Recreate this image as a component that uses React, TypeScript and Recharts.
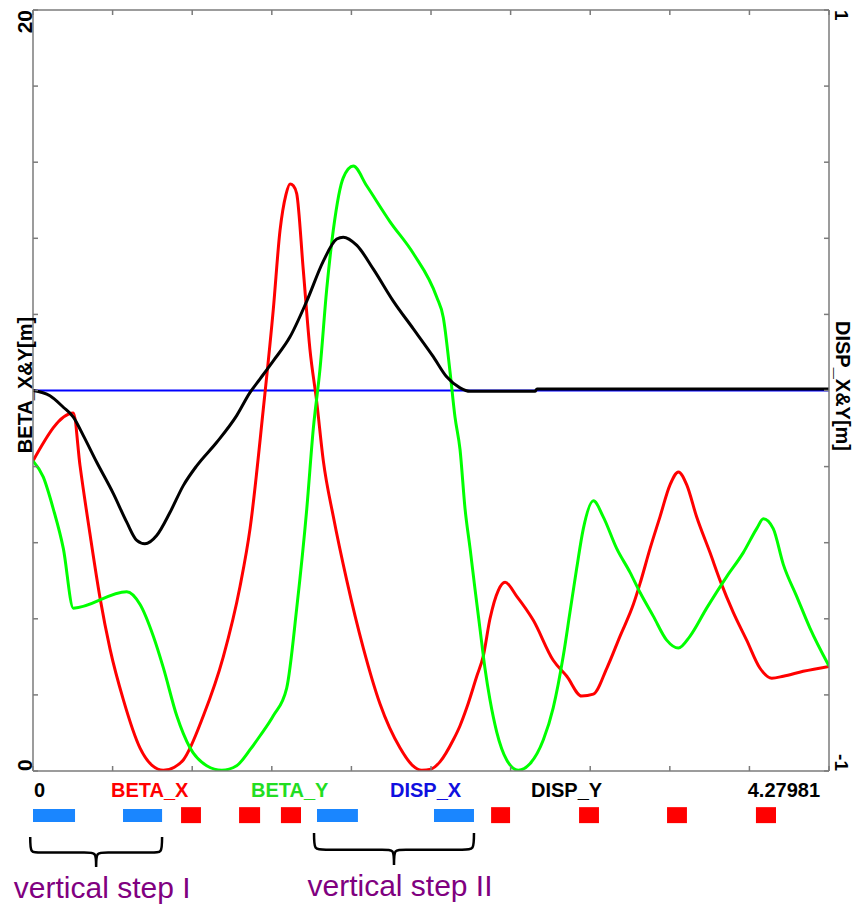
import React from 'react';
import { ComposedChart, Line, XAxis, YAxis, ReferenceArea } from 'recharts';

// lattice length along s [m]
const S_MAX = 4.27981;

// BETA_X (left axis, m)
const BETA_X_S = [0, 0.217, 0.253, 0.306, 0.36, 0.414, 0.486, 0.575, 0.64, 0.701, 0.76, 0.808, 0.916, 1.023, 1.113, 1.167, 1.238, 1.292, 1.328, 1.36, 1.382, 1.4, 1.418, 1.453, 1.489, 1.525, 1.561, 1.615, 1.687, 1.776, 1.866, 1.973, 2.04, 2.09, 2.14, 2.188, 2.26, 2.296, 2.332, 2.386, 2.421, 2.457, 2.502, 2.538, 2.601, 2.69, 2.797, 2.87, 2.95, 3.013, 3.085, 3.156, 3.228, 3.264, 3.318, 3.371, 3.425, 3.47, 3.515, 3.568, 3.64, 3.694, 3.765, 3.837, 3.909, 3.972, 4.034, 4.141, 4.28];
const BETA_X = [8.15, 9.41, 8.02, 6.24, 4.56, 3.21, 1.87, 0.61, 0.15, 0.02, 0.1, 0.29, 1.45, 3.0, 4.85, 6.37, 9.5, 12.13, 14.2, 15.15, 15.43, 15.38, 15.17, 13.18, 11.08, 9.72, 8.15, 6.68, 5.01, 3.23, 1.76, 0.61, 0.15, 0.02, 0.05, 0.24, 0.82, 1.19, 1.66, 2.49, 3.02, 4.0, 4.75, 4.96, 4.59, 3.96, 2.91, 2.49, 1.97, 2.02, 2.7, 3.54, 4.38, 4.93, 5.85, 6.68, 7.52, 7.86, 7.52, 6.68, 5.74, 5.01, 4.17, 3.44, 2.7, 2.44, 2.49, 2.62, 2.75];

// BETA_Y (left axis, m)
const BETA_Y_S = [0, 0.055, 0.109, 0.163, 0.217, 0.504, 0.575, 0.647, 0.701, 0.773, 0.844, 0.934, 1.015, 1.095, 1.167, 1.22, 1.292, 1.364, 1.418, 1.472, 1.507, 1.543, 1.579, 1.615, 1.668, 1.722, 1.794, 1.919, 2.045, 2.171, 2.206, 2.242, 2.269, 2.296, 2.323, 2.35, 2.376, 2.403, 2.43, 2.457, 2.493, 2.547, 2.609, 2.672, 2.744, 2.797, 2.851, 2.887, 2.923, 2.959, 3.013, 3.066, 3.138, 3.21, 3.264, 3.335, 3.407, 3.47, 3.532, 3.622, 3.73, 3.819, 3.891, 3.927, 3.98, 4.034, 4.106, 4.178, 4.28];
const BETA_Y = [8.15, 7.73, 6.89, 5.85, 4.28, 4.71, 4.38, 3.54, 2.71, 1.45, 0.61, 0.14, 0.02, 0.14, 0.56, 0.92, 1.45, 2.18, 4.28, 6.89, 8.99, 10.56, 12.65, 14.23, 15.59, 15.9, 15.38, 14.44, 13.6, 12.45, 11.92, 10.5, 9.3, 8.45, 6.89, 5.85, 4.8, 3.75, 2.7, 1.87, 1.03, 0.29, 0.02, 0.19, 0.82, 1.66, 3.02, 4.17, 5.32, 6.37, 7.1, 6.68, 5.85, 5.22, 4.69, 4.07, 3.44, 3.23, 3.54, 4.28, 5.11, 5.74, 6.37, 6.63, 6.37, 5.43, 4.59, 3.75, 2.76];

// DISP_X / DISP_Y (right axis, m)
const DISP_X_S = [0, 4.28];
const DISP_X = [0, 0];
const DISP_Y_S = [0, 0.091, 0.163, 0.217, 0.27, 0.342, 0.432, 0.504, 0.558, 0.602, 0.665, 0.737, 0.808, 0.88, 0.988, 1.095, 1.167, 1.22, 1.292, 1.382, 1.472, 1.561, 1.633, 1.668, 1.74, 1.83, 1.937, 2.045, 2.152, 2.224, 2.296, 2.35, 2.699, 2.71, 4.28];
const DISP_Y = [0, -0.014, -0.044, -0.07, -0.118, -0.188, -0.271, -0.346, -0.394, -0.403, -0.381, -0.32, -0.25, -0.198, -0.136, -0.066, -0.005, 0.03, 0.078, 0.141, 0.235, 0.34, 0.398, 0.403, 0.382, 0.319, 0.235, 0.162, 0.089, 0.036, 0.007, -0.002, -0.002, 0.004, 0.004];

// ticks
const LEFT_TICKS = [0, 2, 4, 6, 8, 10, 12, 14, 16, 18, 20];
const RIGHT_TICKS = [-1, -0.8, -0.6, -0.4, -0.2, 0, 0.2, 0.4, 0.6, 0.8, 1];
const S_TICKS = [0, 0.428, 0.856, 1.284, 1.712, 2.14, 2.568, 2.996, 3.424, 3.852, S_MAX];

// lattice elements [s start, s end]
const BLUE_ELEMS = [[0, 0.226], [0.484, 0.694], [1.527, 1.747], [2.156, 2.371]];
const RED_ELEMS = [[0.796, 0.903], [1.108, 1.221], [1.333, 1.441], [2.463, 2.565], [2.936, 3.043], [3.409, 3.516], [3.887, 3.995]];

// vertical steps under the lattice
const STEP_RANGES = [[-0.015, 0.694], [1.511, 2.371]];
const STEP_LABELS = ['vertical step I', 'vertical step II'];

const W = 854;
const H = 908;
const M = { top: 10, right: 25, bottom: 137, left: 33 };
const AXIS = '#7b7b7b';
const FONT = '"Liberation Sans", Arial, Helvetica, sans-serif';

const toPoints = (s: number[], v: number[]) => s.map((x, i) => ({ s: x, v: v[i] }));

const LeftTick = (props: any) => {
  const { y, payload } = props;
  const v = payload.value;
  if (v !== 0 && v !== 20) return <g />;
  return (
    <text transform={`translate(${M.left - 1},${y}) rotate(-90)`} textAnchor={v === 20 ? 'end' : 'start'}
      fontFamily={FONT} fontWeight="bold" fontSize={21} fill="#000">{v}</text>
  );
};

const RightTick = (props: any) => {
  const { y, payload } = props;
  const v = payload.value;
  if (v !== 1 && v !== -1) return <g />;
  return (
    <text transform={`translate(${W - M.right + 6},${y}) rotate(90)`} textAnchor={v === 1 ? 'start' : 'end'}
      fontFamily={FONT} fontWeight="bold" fontSize={19} fill="#000">{v}</text>
  );
};

const BottomTick = (props: any) => {
  const { x, payload } = props;
  const v = payload.value;
  if (v === 0) {
    return <text x={x + 1} y={H - M.bottom + 26} textAnchor="start" fontFamily={FONT} fontWeight="bold" fontSize={20} fill="#000">0</text>;
  }
  if (v === S_MAX) {
    return <text x={x - 9} y={H - M.bottom + 26} textAnchor="end" fontFamily={FONT} fontWeight="bold" fontSize={20} fill="#000">{S_MAX}</text>;
  }
  return <g />;
};

const NoTick = () => <g />;

const Brace = (p: any) => {
  const { x, y, width, height, text } = p;
  const x1 = x + width;
  const cx = x + width / 2;
  const ym = y + height * 0.52;
  const yb = y + height;
  const r = 12;
  const d = `M${x},${y} C${x},${ym} ${x},${ym} ${x + r},${ym} L${cx - r},${ym} C${cx},${ym} ${cx},${ym} ${cx},${yb} ` +
    `C${cx},${ym} ${cx},${ym} ${cx + r},${ym} L${x1 - r},${ym} C${x1},${ym} ${x1},${ym} ${x1},${y}`;
  return (
    <g>
      <path d={d} fill="none" stroke="#000" strokeWidth={2.5} />
      <text x={cx + 6} y={yb + 31} textAnchor="middle" fontFamily={FONT} fontSize={30} fill="#800080">{text}</text>
    </g>
  );
};

const legendItems = [
  { name: 'BETA_X', color: '#ff0000', x: 111 },
  { name: 'BETA_Y', color: '#22dd22', x: 251 },
  { name: 'DISP_X', color: '#1010e0', x: 390 },
  { name: 'DISP_Y', color: '#000000', x: 531 },
];

export default function App() {
  const betaX = toPoints(BETA_X_S, BETA_X);
  const betaY = toPoints(BETA_Y_S, BETA_Y);
  const dispX = toPoints(DISP_X_S, DISP_X);
  const dispY = toPoints(DISP_Y_S, DISP_Y);

  return (
    <div style={{ position: 'absolute', left: 0, top: 0, width: W, height: H, background: '#fff' }}>
      <ComposedChart width={W} height={H} margin={M}>
        <XAxis xAxisId="bottom" type="number" dataKey="s" domain={[0, S_MAX]} ticks={S_TICKS} interval={0}
          allowDataOverflow mirror tickSize={5} stroke={AXIS} strokeWidth={1.5} tick={BottomTick} />
        <XAxis xAxisId="top" orientation="top" type="number" dataKey="s" domain={[0, S_MAX]} ticks={S_TICKS} interval={0}
          allowDataOverflow mirror tickSize={5} stroke={AXIS} strokeWidth={1.5} tick={NoTick} />
        <YAxis yAxisId="left" type="number" domain={[0, 20]} ticks={LEFT_TICKS} interval={0}
          allowDataOverflow mirror tickSize={5} stroke={AXIS} strokeWidth={1.5} tick={LeftTick} />
        <YAxis yAxisId="right" orientation="right" type="number" domain={[-1, 1]} ticks={RIGHT_TICKS} interval={0}
          allowDataOverflow mirror tickSize={5} stroke={AXIS} strokeWidth={1.5} tick={RightTick} />

        <Line xAxisId="bottom" yAxisId="right" data={dispX} dataKey="v" type="linear" stroke="#0000ff" strokeWidth={2}
          dot={false} activeDot={false} isAnimationActive={false} />
        <Line xAxisId="bottom" yAxisId="left" data={betaX} dataKey="v" type="monotone" stroke="#ff0000" strokeWidth={3}
          dot={false} activeDot={false} isAnimationActive={false} />
        <Line xAxisId="bottom" yAxisId="left" data={betaY} dataKey="v" type="monotone" stroke="#00ff00" strokeWidth={3}
          dot={false} activeDot={false} isAnimationActive={false} />
        <Line xAxisId="bottom" yAxisId="right" data={dispY} dataKey="v" type="monotone" stroke="#000000" strokeWidth={3}
          dot={false} activeDot={false} isAnimationActive={false} />

        {BLUE_ELEMS.map(([a, b], i) => (
          <ReferenceArea key={`b${i}`} xAxisId="bottom" yAxisId="left" x1={a} x2={b} y1={-1.0} y2={-1.34}
            fill="#1a86ff" fillOpacity={1} stroke="none" ifOverflow="visible" />
        ))}
        {RED_ELEMS.map(([a, b], i) => (
          <ReferenceArea key={`r${i}`} xAxisId="bottom" yAxisId="left" x1={a} x2={b} y1={-0.95} y2={-1.37}
            fill="#ff0000" fillOpacity={1} stroke="none" ifOverflow="visible" />
        ))}
        {STEP_RANGES.map(([a, b], i) => (
          <ReferenceArea key={`s${i}`} xAxisId="bottom" yAxisId="left" x1={a} x2={b}
            y1={i === 0 ? -1.735 : -1.63} y2={i === 0 ? -2.523 : -2.47} ifOverflow="visible"
            shape={(p: any) => <Brace {...p} text={STEP_LABELS[i]} />} />
        ))}
      </ComposedChart>

      <svg width={W} height={H} style={{ position: 'absolute', left: 0, top: 0, pointerEvents: 'none' }}>
        <text transform={`translate(32,385) rotate(-90)`} textAnchor="middle" fontFamily={FONT} fontWeight="bold" fontSize={20}>BETA_X&amp;Y[m]</text>
        <text transform={`translate(836,386) rotate(90)`} textAnchor="middle" fontFamily={FONT} fontWeight="bold" fontSize={20}>DISP_X&amp;Y[m]</text>
        {legendItems.map((it) => (
          <text key={it.name} x={it.x} y={H - M.bottom + 26} fontFamily={FONT} fontWeight="bold" fontSize={20} fill={it.color}>{it.name}</text>
        ))}
      </svg>
    </div>
  );
}
